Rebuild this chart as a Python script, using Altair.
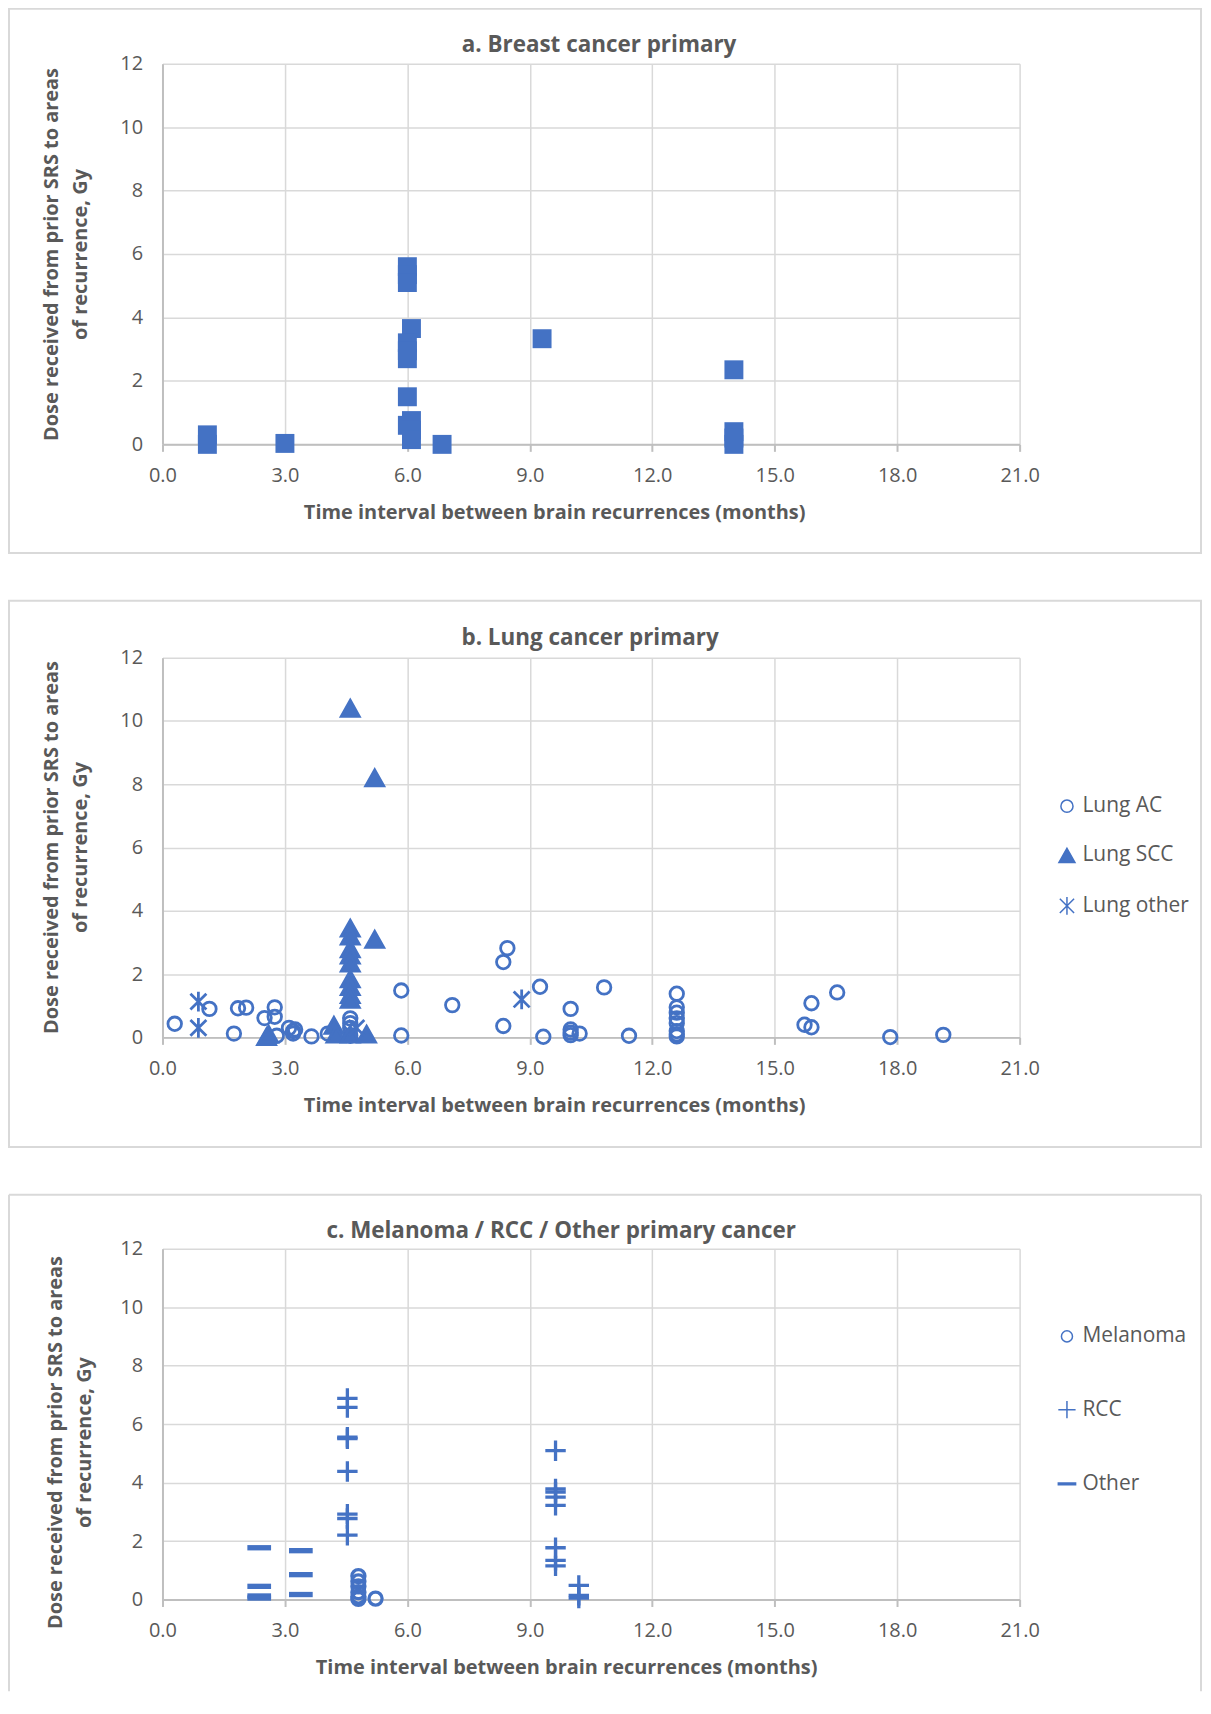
import altair as alt
import pandas as pd

BLUE = "#4472C4"
TXT = "#595959"
GRID = "#d9d9d9"
AXISC = "#bfbfbf"
BORDER = "#d9d9d9"
FONT = "Open Sans"

x_ticks = [0, 3, 6, 9, 12, 15, 18, 21]
y_ticks = [0, 2, 4, 6, 8, 10, 12]
x_title = "Time interval between brain recurrences (months)"
y_title = ["Dose received from prior SRS to areas", "of recurrence, Gy"]

# ---- a. Breast cancer primary
breast_x = [1.1, 1.1, 3.0, 6.0, 6.0, 6.0, 6.1, 6.0, 6.0, 6.0, 6.0, 6.0,
            6.1, 6.1, 6.1, 6.85, 9.3, 14.0, 14.0, 14.0, 14.0]
breast_y = [0.3, 0.0, 0.03, 5.6, 5.35, 5.1, 3.65, 3.2, 2.95, 2.7, 1.5, 0.6,
            0.75, 0.45, 0.15, 0.0, 3.33, 2.35, 0.4, 0.2, 0.0]

# ---- b. Lung cancer primary
ac_x = [0.3, 1.15, 1.75, 1.85, 2.05, 2.5, 2.75, 2.75, 2.8, 3.1, 3.2, 3.25, 3.2,
        3.65, 4.05, 4.6, 4.6, 4.6, 4.6, 5.85, 5.85, 7.1, 8.35, 8.45, 8.35, 9.25,
        9.33, 10.0, 10.0, 10.0, 10.0, 10.22, 10.82, 11.43, 12.6, 12.6, 12.6, 12.6,
        12.6, 12.6, 12.6, 12.6, 15.73, 15.9, 15.9, 16.53, 17.83, 19.13]
ac_y = [0.43, 0.9, 0.12, 0.92, 0.94, 0.61, 0.95, 0.65, 0.05, 0.3, 0.2, 0.25, 0.12,
        0.03, 0.12, 0.6, 0.45, 0.3, 0.05, 1.48, 0.06, 1.02, 2.38, 2.82, 0.36, 1.6,
        0.02, 0.9, 0.25, 0.15, 0.07, 0.12, 1.58, 0.05, 1.38, 0.95, 0.78, 0.6,
        0.45, 0.2, 0.1, 0.03, 0.4, 0.32, 1.08, 1.42, 0.01, 0.08]
scc_x = [4.6, 5.2, 4.6, 4.6, 4.6, 4.6, 4.6, 4.6, 4.6, 4.6, 4.6, 5.2, 2.55, 2.6,
         4.2, 4.25, 4.6, 5.0]
scc_y = [10.4, 8.2, 3.45, 3.2, 2.8, 2.6, 2.35, 1.85, 1.6, 1.35, 1.2, 3.1, 0.02, 0.1,
         0.38, 0.1, 0.1, 0.1]
lo_x = [0.88, 0.88, 8.8, 4.75]
lo_y = [1.13, 0.3, 1.2, 0.3]

# ---- c. Melanoma / RCC / Other
mel_x = [4.8, 4.8, 4.8, 4.8, 4.8, 4.8, 5.22]
mel_y = [0.8, 0.62, 0.45, 0.25, 0.1, 0.02, 0.03]
rcc_x = [4.53] * 8 + [9.63] * 8 + [10.2] * 3
rcc_y = [6.88, 6.57, 5.55, 5.5, 4.38, 2.92, 2.77, 2.2,
         5.09, 3.78, 3.67, 3.5, 3.22, 1.77, 1.34, 1.15,
         0.48, 0.14, 0.05]
oth_x = [2.37, 2.37, 2.37, 2.37, 3.39, 3.39, 3.39]
oth_y = [1.77, 0.45, 0.12, 0.05, 1.67, 0.85, 0.17]

types_b = ["Lung AC", "Lung SCC", "Lung other"]
types_c = ["Melanoma", "RCC", "Other"]

CIRCLE_B = "M0.68,0A0.68,0.68,0,1,1,-0.68,0A0.68,0.68,0,1,1,0.68,0Z"
CIRCLE_C = "M0.64,0A0.64,0.64,0,1,1,-0.64,0A0.64,0.64,0,1,1,0.64,0Z"
TRI = "M0,-0.8L0.9,0.8L-0.9,0.8Z"
AST = "M-0.8,-0.8L0.8,0.8M-0.8,0.8L0.8,-0.8M0,-1L0,1"
PLUS = "M-1,0L1,0M0,-1L0,1"
DASH = "M-1,-0.1L1,-0.1L1,0.1L-1,0.1Z"

one = pd.DataFrame({"k": [0]})


def x_enc(title_x):
    return alt.X("x:Q", scale=alt.Scale(domain=[0, 21], nice=False, zero=False),
                 axis=alt.Axis(values=x_ticks, format=".1f", title=x_title,
                               ticks=True, tickSize=7, tickWidth=2, tickColor=AXISC,
                               labelPadding=14, labelFlush=False,
                               titleX=title_x, titleY=58,
                               titleAlign="center", titleBaseline="top"))


def y_enc(title_x, title_y):
    return alt.Y("y:Q", scale=alt.Scale(domain=[0, 12], nice=False),
                 axis=alt.Axis(values=y_ticks, format="d", title=y_title,
                               ticks=False, tickSize=0, labelPadding=20,
                               titleAngle=270, titleX=title_x, titleY=title_y,
                               titleAlign="center", titleBaseline="top",
                               titleLineHeight=29))


def box(top, bottom, left=-154, right=1042):
    return alt.Chart(one).mark_rect(fillOpacity=0, stroke=BORDER, strokeWidth=2).encode(
        x=alt.value(left), x2=alt.value(right), y=alt.value(top), y2=alt.value(bottom))


def open_box(top, bottom, left=-154, right=1042):
    base = alt.Chart(one).mark_rule(color=BORDER, strokeWidth=2)
    t = base.encode(x=alt.value(left), x2=alt.value(right), y=alt.value(top))
    l = base.encode(x=alt.value(left), y=alt.value(top), y2=alt.value(bottom))
    r = base.encode(x=alt.value(right), y=alt.value(top), y2=alt.value(bottom))
    return [t, l, r]


def title_text(txt, cx, cy):
    return alt.Chart(one).mark_text(text=txt, font=FONT, fontSize=22.5, fontWeight="bold",
                                    color=TXT, align="center", baseline="middle").encode(
        x=alt.value(cx), y=alt.value(cy))


def legend(ly, rowpad, symsize):
    return alt.Legend(title=None, orient="none", legendX=897, legendY=ly,
                      direction="vertical", symbolSize=symsize, labelFont=FONT,
                      labelFontSize=21, labelColor=TXT, rowPadding=rowpad,
                      labelOffset=5, padding=0)


# Panel a
df_a = pd.DataFrame({"x": breast_x, "y": breast_y})
pts_a = alt.Chart(df_a).mark_point(shape="square", filled=True, size=361, color=BLUE,
                                   opacity=1).encode(x=x_enc(393), y=y_enc(-121, 191))
panel_a = alt.layer(box(-55, 491), pts_a,
                    title_text("a. Breast cancer primary", 438, -19)).properties(
    width=860, height=382)

# Panel b
df_b = pd.DataFrame({
    "x": ac_x + scc_x + lo_x,
    "y": ac_y + scc_y + lo_y,
    "type": ["Lung AC"] * len(ac_x) + ["Lung SCC"] * len(scc_x) + ["Lung other"] * len(lo_x),
})
leg_b = legend(138.5, 27.5, 320)
pts_b = alt.Chart(df_b).mark_point(size=400, stroke=BLUE, strokeWidth=2.8, opacity=1).encode(
    x=x_enc(393), y=y_enc(-121, 190),
    shape=alt.Shape("type:N", scale=alt.Scale(domain=types_b, range=[CIRCLE_B, TRI, AST]),
                    legend=leg_b),
    fill=alt.Fill("type:N", scale=alt.Scale(domain=types_b,
                                            range=["transparent", BLUE, "transparent"]),
                  legend=leg_b),
)
panel_b = alt.layer(box(-57, 491), pts_b,
                    title_text("b. Lung cancer primary", 429, -20)).properties(
    width=860, height=381)

# Panel c
df_c = pd.DataFrame({
    "x": mel_x + rcc_x + oth_x,
    "y": mel_y + rcc_y + oth_y,
    "type": ["Melanoma"] * len(mel_x) + ["RCC"] * len(rcc_x) + ["Other"] * len(oth_x),
})
leg_c = legend(77.5, 50.5, 300)
pts_c = alt.Chart(df_c).mark_point(size=420, stroke=BLUE, strokeWidth=3.3, opacity=1).encode(
    x=x_enc(405), y=y_enc(-117, 194),
    shape=alt.Shape("type:N", scale=alt.Scale(domain=types_c, range=[CIRCLE_C, PLUS, DASH]),
                    legend=leg_c),
    fill=alt.Fill("type:N", scale=alt.Scale(domain=types_c,
                                            range=["transparent", "transparent", BLUE]),
                  legend=leg_c),
)
panel_c = alt.layer(*open_box(-54, 444), pts_c,
                    title_text("c. Melanoma / RCC / Other primary cancer", 400, -18)).properties(
    width=860, height=352)

chart = alt.vconcat(panel_a, panel_b, panel_c, spacing=44).resolve_scale(
    shape="independent", fill="independent"
).resolve_legend(
    shape="independent", fill="independent"
).properties(
    padding={"top": -4, "left": -1, "right": 0, "bottom": 0}
).configure_view(
    stroke="transparent"
).configure_axis(
    labelFont=FONT, labelFontSize=20, labelColor=TXT,
    titleFont=FONT, titleFontSize=20, titleFontWeight="bold", titleColor=TXT,
    gridColor=GRID, gridWidth=1.5, domainColor=AXISC, domainWidth=2,
)

chart.save("out.html", embed_options={"renderer": "svg", "actions": False})
